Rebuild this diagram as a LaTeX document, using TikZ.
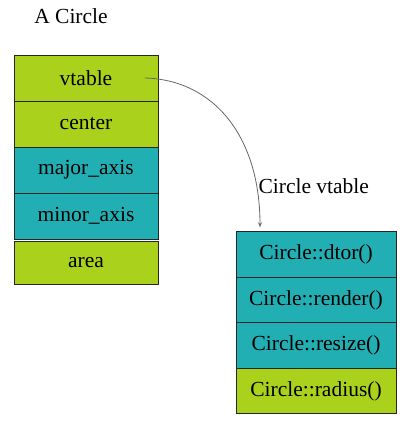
\documentclass[tikz,border=0pt]{standalone}
\usepackage{fontspec}
\setmainfont{Liberation Serif}
\usetikzlibrary{calc,arrows.meta}

\definecolor{limegreen}{RGB}{170,209,28}
\definecolor{tealblue}{RGB}{34,175,179}

\begin{document}
\begin{tikzpicture}[x=1pt, y=1pt,
        font=\fontsize{21.5}{25}\selectfont,
        field/.style={draw=black!85, line width=0.9pt, inner sep=0pt,
            minimum width=144pt, minimum height=46pt},
        slot/.style={draw=black!85, line width=0.9pt, inner sep=0pt,
            minimum width=160pt, minimum height=45.5pt}]
            \useasboundingbox (0, 0) rectangle (418, 428);

            \node (title) at (71, 412) {A Circle};
            \node [field, fill=limegreen] (vtable) at (86, 350) {vtable};
            \node [field, fill=limegreen]
                (center) at ($(vtable) + (0, -46)$) {center};
            \node [field, fill=tealblue]
                (major) at ($(center) + (0, -46)$) {major\_axis};
            \node [field, fill=tealblue]
                (minor) at ($(major) + (0, -46)$) {minor\_axis};
            \node [field, fill=limegreen, minimum height=43pt]
                (area) at ($(minor) + (0, -47)$) {area};

            \node [anchor=west] (vtname) at (255, 242) {Circle vtable};
            \node [slot, fill=tealblue] (dtor) at (316, 173.5) {Circle::dtor()};
            \node [slot, fill=tealblue]
                (render) at ($(dtor) + (0, -45.5)$) {Circle::render()};
            \node [slot, fill=tealblue]
                (resize) at ($(render) + (0, -45.5)$) {Circle::resize()};
            \node [slot, fill=limegreen]
                (radius) at ($(resize) + (0, -45.5)$) {Circle::radius()};

            \coordinate (ptr) at (145, 350);
            \draw [black!60, line width=0.8pt, -{Stealth[length=5pt, width=4pt]}]
                (ptr) .. controls (215, 348) and (260, 290) .. ($(dtor.north) + (-56, 4)$);
        \end{tikzpicture}
\end{document}
